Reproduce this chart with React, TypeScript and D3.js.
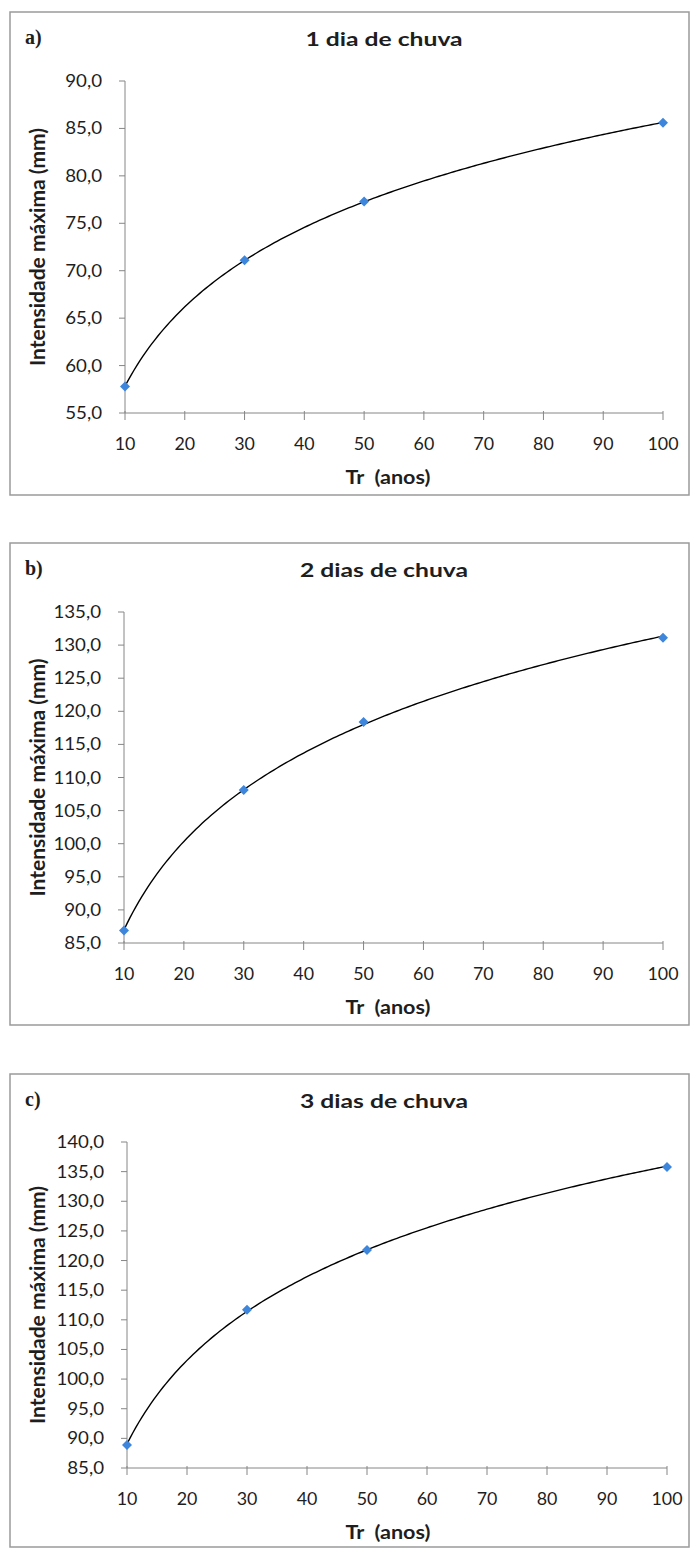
import React from "react";
import * as d3 from "d3";

const TR_YEARS = [10, 30, 50, 100];
const SERIES_1DAY = [57.8, 71.1, 77.3, 85.6];
const SERIES_2DAY = [86.9, 108.1, 118.4, 131.1];
const SERIES_3DAY = [88.9, 111.7, 121.8, 135.8];
const X_TICKS = [10, 20, 30, 40, 50, 60, 70, 80, 90, 100];
const Y_TICKS_1 = [55, 60, 65, 70, 75, 80, 85, 90];
const Y_TICKS_2 = [85, 90, 95, 100, 105, 110, 115, 120, 125, 130, 135];
const Y_TICKS_3 = [85, 90, 95, 100, 105, 110, 115, 120, 125, 130, 135, 140];
const TITLES = ["1 dia de chuva", "2 dias de chuva", "3 dias de chuva"];
const LETTERS = ["a)", "b)", "c)"];
const X_LABEL = "Tr  (anos)";
const Y_LABEL = "Intensidade máxima (mm)";

type PanelCfg = {
  top: number; bottom: number;
  plotTop: number; plotBottom: number; plotLeft: number; plotRight: number;
  values: number[]; yTicks: number[]; title: string; letter: string;
};

const PANELS: PanelCfg[] = [
  { top: 12, bottom: 495, plotTop: 81, plotBottom: 413, plotLeft: 125, plotRight: 663, values: SERIES_1DAY, yTicks: Y_TICKS_1, title: TITLES[0], letter: LETTERS[0] },
  { top: 543, bottom: 1025, plotTop: 612, plotBottom: 943, plotLeft: 124, plotRight: 663, values: SERIES_2DAY, yTicks: Y_TICKS_2, title: TITLES[1], letter: LETTERS[1] },
  { top: 1074, bottom: 1547, plotTop: 1142, plotBottom: 1468, plotLeft: 127, plotRight: 667, values: SERIES_3DAY, yTicks: Y_TICKS_3, title: TITLES[2], letter: LETTERS[2] },
];

const FONT = "Lato, 'Open Sans', sans-serif";
const AXIS = "#868686";
const TEXT = "#1e1e1e";
const MARKER = "#3d86dc";

function logFit(xs: number[], ys: number[]) {
  const lx = xs.map(Math.log);
  const mx = d3.mean(lx)!;
  const my = d3.mean(ys)!;
  let num = 0, den = 0;
  lx.forEach((v, i) => { num += (v - mx) * (ys[i] - my); den += (v - mx) * (v - mx); });
  const a = num / den;
  const b = my - a * mx;
  return (x: number) => a * Math.log(x) + b;
}

function fmt(v: number) {
  return v.toFixed(1).replace(".", ",");
}

function Panel({ cfg }: { cfg: PanelCfg }) {
  const x = d3.scaleLinear().domain([10, 100]).range([cfg.plotLeft, cfg.plotRight]);
  const y = d3.scaleLinear()
    .domain([cfg.yTicks[0], cfg.yTicks[cfg.yTicks.length - 1]])
    .range([cfg.plotBottom, cfg.plotTop]);
  const f = logFit(TR_YEARS, cfg.values);
  const curveX = d3.range(10, 100.01, 0.5);
  const line = d3.line<number>().x((d) => x(d)).y((d) => y(f(d)))(curveX) || "";
  const midY = (cfg.plotTop + cfg.plotBottom) / 2;
  const titleX = 384;
  const xLabelX = 388;
  return (
    <g>
      <rect x={10} y={cfg.top} width={679} height={cfg.bottom - cfg.top} fill="#fff" stroke="#9a9a9a" strokeWidth={1.5} />
      <text x={25} y={cfg.top + 32} fontFamily="'Liberation Serif', 'Times New Roman', serif" fontWeight="bold" fontSize={20} fill={TEXT}>{cfg.letter}</text>
      <text transform={`translate(${titleX},${cfg.top + 34}) scale(1.3,1)`} textAnchor="middle" fontFamily={FONT} fontWeight="bold" fontSize={19} fill={TEXT}>{cfg.title}</text>
      <line x1={cfg.plotLeft} x2={cfg.plotLeft} y1={cfg.plotTop} y2={cfg.plotBottom} stroke={AXIS} strokeWidth={1} />
      {cfg.yTicks.map((t) => (
        <g key={"y" + t}>
          <line x1={cfg.plotLeft - 6} x2={cfg.plotLeft} y1={y(t)} y2={y(t)} stroke={AXIS} strokeWidth={1} />
          <text transform={`translate(${cfg.plotLeft - 23},${y(t) + 6}) scale(1.1,1)`} textAnchor="end" fontFamily={FONT} fontSize={17} fill={TEXT}>{fmt(t)}</text>
        </g>
      ))}
      <line x1={cfg.plotLeft} x2={cfg.plotRight} y1={cfg.plotBottom} y2={cfg.plotBottom} stroke={AXIS} strokeWidth={1} />
      {X_TICKS.map((t) => (
        <g key={"x" + t}>
          <line x1={x(t)} x2={x(t)} y1={cfg.plotBottom - 2} y2={cfg.plotBottom + 7} stroke={AXIS} strokeWidth={1} />
          <text transform={`translate(${x(t)},${cfg.plotBottom + 37}) scale(1.05,1)`} textAnchor="middle" fontFamily={FONT} fontSize={17} fill={TEXT}>{t}</text>
        </g>
      ))}
      <text transform={`translate(${xLabelX},${cfg.plotBottom + 71}) scale(1.2,1)`} textAnchor="middle" fontFamily={FONT} fontWeight="bold" fontSize={18} fill={TEXT} style={{ whiteSpace: "pre" }}>{X_LABEL}</text>
      <text transform={`translate(45,${midY}) rotate(-90)`} textAnchor="middle" fontFamily={FONT} fontWeight="bold" fontSize={21} fill={TEXT}>{Y_LABEL}</text>
      <path d={line} fill="none" stroke="#000" strokeWidth={1.4} />
      {TR_YEARS.map((tr, i) => {
        const cx = x(tr), cy = y(cfg.values[i]);
        const r = 5;
        return <path key={"m" + tr} d={`M${cx},${cy - r}L${cx + r},${cy}L${cx},${cy + r}L${cx - r},${cy}Z`} fill={MARKER} />;
      })}
    </g>
  );
}

export default function App() {
  return (
    <svg width={692} height={1550} style={{ position: "absolute", left: 0, top: 0, background: "#fff" }}>
      <rect x={0} y={0} width={692} height={1550} fill="#fff" />
      {PANELS.map((p, i) => <Panel key={i} cfg={p} />)}
    </svg>
  );
}
